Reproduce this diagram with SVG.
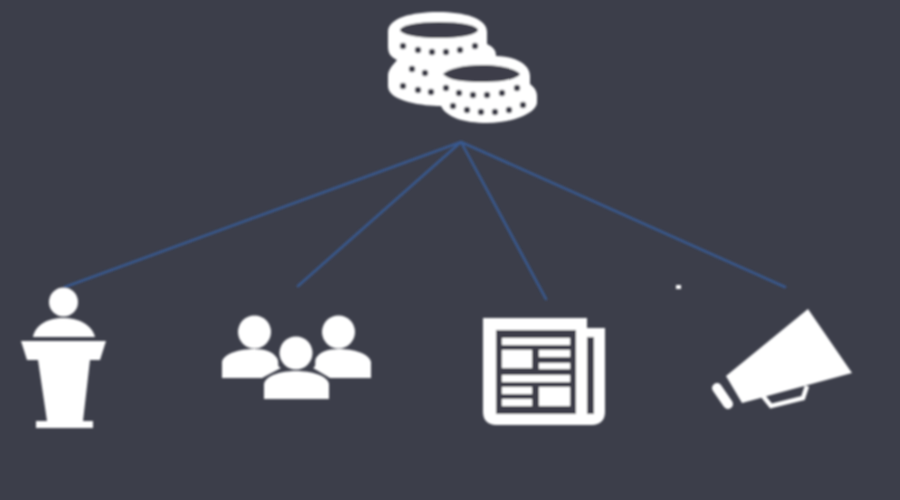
<svg xmlns="http://www.w3.org/2000/svg" width="900" height="500" viewBox="0 0 900 500">
<style>
.w{fill:#fff}
.d{fill:#3c3e4a}
.o{fill:none;stroke:#fff}
.c{fill:none;stroke:#39598f;stroke-width:2.6;stroke-linecap:round}
.i{filter:url(#soft)}
</style>
<defs>
<filter id="soft" filterUnits="userSpaceOnUse" x="0" y="0" width="900" height="500"><feGaussianBlur stdDeviation="1"/></filter>
<circle id="dot" r="3.200" class="d"/>
</defs>
<rect width="900" height="500" fill="#3c3e4a"/>
<g id="connectors" class="i">
<path class="c" d="M461 142L65 287M461 142L298 286M461 142L546 299M461 142L785 287"/>
</g>
<g id="coins" class="i">
<path class="w" d="M388 32C388 18 412 12 438 12C464 12 487 18 487 32V44C493 47 496 50 496 56C515 56 530 64 530 76V84C534 87 537 91 537 96V102C537 114 510 123 487 123C464 123 446 117 441 106C425 106 388 102 388 86V76C388 70 392 66 397 60C391 57 388 54 388 46Z"/>
<ellipse class="d" cx="439" cy="30" rx="39" ry="8"/>
<path class="d" d="M443 74C448 69 462 65 482 65C502 65 516 69 520 74C516 80 500 82 482 82C462 82 448 80 443 74Z"/>
<use href="#dot" x="403" y="46"/><use href="#dot" x="418" y="50"/><use href="#dot" x="432" y="52"/><use href="#dot" x="446" y="52"/><use href="#dot" x="460" y="50"/><use href="#dot" x="475" y="46"/>
<use href="#dot" x="412" y="69"/><use href="#dot" x="425" y="73"/>
<use href="#dot" x="403" y="86"/><use href="#dot" x="418" y="90"/><use href="#dot" x="431" y="92"/>
<use href="#dot" x="446" y="88"/><use href="#dot" x="459" y="93"/><use href="#dot" x="473" y="95"/><use href="#dot" x="487" y="95"/><use href="#dot" x="502" y="93"/><use href="#dot" x="517" y="88"/>
<use href="#dot" x="453" y="106"/><use href="#dot" x="467" y="110"/><use href="#dot" x="481" y="112"/><use href="#dot" x="495" y="112"/><use href="#dot" x="509" y="110"/><use href="#dot" x="523" y="105"/>
</g>
<g id="speaker" class="i">
<circle class="w" cx="63.500" cy="302" r="14.500"/>
<path class="w" d="M33 337C35 325 48 318 63 318C79 318 92 325 95 337Z"/>
<path class="w" d="M21 341H106L100 360H90L83 421H93V428H36V421H47L38 360H27Z"/>
</g>
<g id="audience" class="i">
<circle class="w" cx="254.500" cy="332" r="16.500"/>
<circle class="w" cx="338.500" cy="332" r="16.500"/>
<circle class="w" cx="296" cy="353" r="16.500"/>
<path class="w" d="M222 378V362C224 353 240 349 254 349C266 349 273 352 277 358C280 364 276 366 281 368L262 378Z"/>
<path class="w" d="M371 378V362C369 353 353 349 339 349C327 349 320 352 316 358C314 363 317 366 313 368L330 378Z"/>
<path class="w" d="M264 399V384C266 375 281 371 296 371C311 371 327 375 329 384V399Z"/>
</g>
<g id="newspaper" class="i">
<path class="w" d="M483 318H587V328H605V412C605 420 600 425 592 425H496C488 425 483 420 483 412Z"/>
<rect class="d" x="496" y="330" width="80" height="84"/>
<rect class="d" x="587" y="337" width="7" height="77"/>
<path class="w" d="M502 338H570V345H502ZM502 350H532V368H502ZM539 350H570V357H539ZM539 363H570V369H539ZM502 375H570V382H502ZM502 387H532V394H502ZM502 399H532V406H502ZM539 387H570V406H539Z"/>
</g>
<g id="megaphone" class="i">
<path class="w" d="M808 309L852 373L742 403L726 376Z"/>
<path class="o" stroke-width="4.500" d="M763 396L771 406L803 398L807 386"/>
<path class="o" stroke-width="10" stroke-linecap="round" d="M717 388L728 404"/>
</g>
<g id="speck" class="i">
<rect class="w" x="676" y="285" width="5" height="4"/>
</g>
</svg>
